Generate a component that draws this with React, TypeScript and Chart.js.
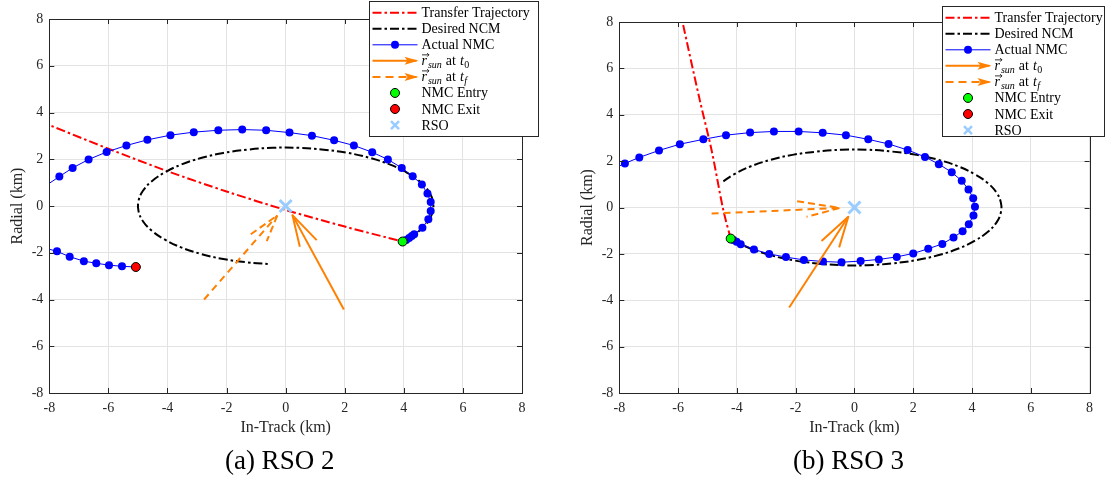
import React, { useEffect, useRef } from 'react';
import { Chart, registerables } from 'chart.js';

Chart.register(...registerables);

type Pt = [number, number];

const SERIF = '"Liberation Serif", "Times New Roman", serif';
const INK = '#262626';
const GRID = '#e3e3e3';
const C_RED = '#ff0000';
const C_BLACK = '#000000';
const C_BLUE = '#0000ff';
const C_ORANGE = '#ff8000';
const C_GREEN = '#00ff00';
const C_RSO = '#99ccff';

const AXIS_MIN = -8;
const AXIS_MAX = 8;
const AXIS_STEP = 2;
const X_TITLE = 'In-Track (km)';
const Y_TITLE = 'Radial (km)';
const LEGEND_TEXT = ['Transfer Trajectory', 'Desired NCM', 'Actual NMC', 'SUN_T0', 'SUN_TF', 'NMC Entry', 'NMC Exit', 'RSO'];

// ---------- RSO 2 ----------
const rso2Transfer: Pt[] = [[-8.3, 3.61], [-8, 3.46], [-6, 2.45], [-4, 1.49], [-2, 0.62], [0, -0.17], [2, -0.88], [3.96, -1.52]];
const rso2Ncm: Pt[] = [[3.99, -1.5], [4.53, -1.06], [4.83, -0.65], [4.98, -0.22], [4.98, 0.22], [4.83, 0.65], [4.53, 1.06], [4.1, 1.43], [3.54, 1.77], [2.87, 2.05], [2.11, 2.27], [1.29, 2.41], [0.44, 2.49], [-0.44, 2.49], [-1.29, 2.41], [-2.11, 2.27], [-2.87, 2.05], [-3.54, 1.77], [-4.1, 1.43], [-4.53, 1.06], [-4.83, 0.65], [-4.98, 0.22], [-4.98, -0.22], [-4.83, -0.65], [-4.53, -1.06], [-4.1, -1.43], [-3.54, -1.77], [-2.87, -2.05], [-2.11, -2.27], [-1.29, -2.41], [-0.52, -2.49]];
const rso2Nmc: Pt[] = [[3.96, -1.52], [4.08, -1.45], [4.18, -1.37], [4.27, -1.28], [4.35, -1.21], [4.63, -0.93], [4.83, -0.57], [4.91, -0.21], [4.91, 0.17], [4.8, 0.53], [4.61, 0.92], [4.3, 1.27], [3.93, 1.63], [3.46, 1.99], [2.93, 2.3], [2.31, 2.59], [1.64, 2.81], [0.89, 3.01], [0.13, 3.14], [-0.66, 3.24], [-1.47, 3.27], [-2.28, 3.24], [-3.11, 3.16], [-3.9, 3.03], [-4.68, 2.83], [-5.39, 2.59], [-6.06, 2.31], [-6.67, 1.99], [-7.21, 1.63], [-7.66, 1.26], [-8.2, 0.8], [-8.5, -0.5], [-8.2, -1.78], [-7.74, -1.94], [-7.31, -2.17], [-6.83, -2.36], [-6.41, -2.45], [-5.98, -2.53], [-5.54, -2.58], [-5.07, -2.61]];
const rso2Entry: Pt = [3.96, -1.52];
const rso2Exit: Pt = [-5.07, -2.61];
const rso2Target: Pt = [0, 0];
const rso2SunT0Shaft: Pt[] = [[1.97, -4.43], [0.23, -0.39]];
const rso2SunT0Head: Pt[] = [[0.48, -1.74], [0.23, -0.39], [1.05, -1.46]];
const rso2SunTfShaft: Pt[] = [[-2.76, -4.0], [-0.28, -0.4]];
const rso2SunTfHead: Pt[] = [[-1.18, -1.21], [-0.28, -0.4], [-0.64, -1.5]];

// ---------- RSO 3 ----------
const rso3Transfer: Pt[] = [[-5.95, 8.6], [-5.85, 8.0], [-5.26, 4.62], [-4.86, 2.47], [-4.46, -0.12], [-4.21, -1.34]];
const rso3Ncm: Pt[] = [[-4.46, 1.13], [-4.1, 1.43], [-3.54, 1.77], [-2.87, 2.05], [-2.11, 2.27], [-1.29, 2.41], [-0.44, 2.49], [0.44, 2.49], [1.29, 2.41], [2.11, 2.27], [2.87, 2.05], [3.54, 1.77], [4.1, 1.43], [4.53, 1.06], [4.83, 0.65], [4.98, 0.22], [4.98, -0.22], [4.83, -0.65], [4.53, -1.06], [4.1, -1.43], [3.54, -1.77], [2.87, -2.05], [2.11, -2.27], [1.29, -2.41], [0.44, -2.49], [-0.44, -2.49], [-1.29, -2.41], [-2.11, -2.27], [-2.87, -2.05], [-3.54, -1.77], [-3.99, -1.5]];
const rso3Nmc: Pt[] = [[-4.21, -1.34], [-4.12, -1.4], [-4.01, -1.48], [-3.87, -1.58], [-3.42, -1.81], [-2.9, -2.0], [-2.33, -2.14], [-1.72, -2.26], [-1.07, -2.33], [-0.44, -2.36], [0.21, -2.31], [0.83, -2.24], [1.44, -2.13], [2.0, -1.98], [2.51, -1.78], [2.99, -1.57], [3.37, -1.29], [3.68, -1.02], [3.89, -0.72], [4.05, -0.34], [4.1, 0.03], [4.04, 0.4], [3.88, 0.78], [3.65, 1.15], [3.31, 1.52], [2.87, 1.87], [2.4, 2.18], [1.81, 2.48], [1.16, 2.74], [0.47, 2.94], [-0.29, 3.12], [-1.08, 3.22], [-1.9, 3.28], [-2.74, 3.28], [-3.55, 3.23], [-4.37, 3.12], [-5.14, 2.94], [-5.94, 2.73], [-6.65, 2.46], [-7.32, 2.16], [-7.81, 1.9], [-8.3, 1.62]];
const rso3Entry: Pt = [-4.21, -1.34];
const rso3Target: Pt = [0, 0];
const rso3SunT0Shaft: Pt[] = [[-2.22, -4.31], [-0.21, -0.4]];
const rso3SunT0Head: Pt[] = [[-1.12, -1.44], [-0.21, -0.4], [-0.52, -1.72]];
const rso3SunTfShaft: Pt[] = [[-4.86, -0.26], [-0.49, -0.02]];
const rso3SunTfHead: Pt[] = [[-1.95, 0.27], [-0.49, -0.02], [-1.63, -0.4]];

interface Panel {
  caption: string;
  transfer: Pt[];
  ncm: Pt[];
  nmc: Pt[];
  entry: Pt;
  exit: Pt | null;
  target: Pt;
  sunT0Shaft: Pt[];
  sunT0Head: Pt[];
  sunTfShaft: Pt[];
  sunTfHead: Pt[];
  left: number;
  width: number;
  padTop: number;
  padRight: number;
  yAxisWidth: number;
  yTitleX: number;
  legend: { x: number; y: number; w: number; h: number };
}

const PANELS: Panel[] = [
  {
    caption: '(a) RSO 2',
    transfer: rso2Transfer, ncm: rso2Ncm, nmc: rso2Nmc, entry: rso2Entry, exit: rso2Exit, target: rso2Target,
    sunT0Shaft: rso2SunT0Shaft, sunT0Head: rso2SunT0Head, sunTfShaft: rso2SunTfShaft, sunTfHead: rso2SunTfHead,
    left: 0, width: 553, padTop: 19, padRight: 31, yAxisWidth: 49.3, yTitleX: 18,
    legend: { x: 369, y: 1, w: 169, h: 135 },
  },
  {
    caption: '(b) RSO 3',
    transfer: rso3Transfer, ncm: rso3Ncm, nmc: rso3Nmc, entry: rso3Entry, exit: null, target: rso3Target,
    sunT0Shaft: rso3SunT0Shaft, sunT0Head: rso3SunT0Head, sunTfShaft: rso3SunTfShaft, sunTfHead: rso3SunTfHead,
    left: 553, width: 554, padTop: 22, padRight: 17.4, yAxisWidth: 66.3, yTitleX: 35,
    legend: { x: 389, y: 6, w: 162, h: 130 },
  },
];

const toXY = (arr: Pt[]) => arr.map(([x, y]) => ({ x, y }));

function lineDs(label: string, data: Pt[], color: string, width: number, dash: number[], order: number, tension = 0) {
  return {
    label, data: toXY(data), showLine: true, borderColor: color, backgroundColor: color,
    borderWidth: width, borderDash: dash, pointRadius: 0, pointHoverRadius: 0, tension, order,
    borderCapStyle: 'butt', borderJoinStyle: 'round', fill: false,
  };
}

function seg(ctx: CanvasRenderingContext2D, x0: number, y0: number, x1: number, y1: number, color: string, w: number, dash: number[] = []) {
  ctx.save();
  ctx.strokeStyle = color;
  ctx.lineWidth = w;
  ctx.setLineDash(dash);
  ctx.beginPath();
  ctx.moveTo(x0, y0);
  ctx.lineTo(x1, y1);
  ctx.stroke();
  ctx.restore();
}

function drawSunLabel(ctx: CanvasRenderingContext2D, x: number, y: number, sub: string) {
  const base = y + 4.5;
  ctx.save();
  ctx.fillStyle = '#000';
  ctx.textBaseline = 'alphabetic';
  ctx.textAlign = 'left';
  ctx.font = `italic 14px ${SERIF}`;
  ctx.fillText('r', x, base);
  const rw = ctx.measureText('r').width;
  ctx.strokeStyle = '#000';
  ctx.lineWidth = 0.8;
  ctx.beginPath();
  ctx.moveTo(x + 0.5, base - 10.5);
  ctx.lineTo(x + rw + 2, base - 10.5);
  ctx.moveTo(x + rw + 0.2, base - 12.3);
  ctx.lineTo(x + rw + 2, base - 10.5);
  ctx.lineTo(x + rw + 0.2, base - 8.7);
  ctx.stroke();
  let cx = x + rw + 1;
  ctx.font = `italic 10px ${SERIF}`;
  ctx.fillText('sun', cx, base + 3);
  cx += ctx.measureText('sun').width + 4;
  ctx.font = `14px ${SERIF}`;
  ctx.fillText('at', cx, base);
  cx += ctx.measureText('at').width + 4;
  ctx.font = `italic 14px ${SERIF}`;
  ctx.fillText('t', cx, base);
  cx += ctx.measureText('t').width + 0.5;
  ctx.font = sub === 'f' ? `italic 10px ${SERIF}` : `10px ${SERIF}`;
  ctx.fillText(sub, cx, base + 3);
  ctx.restore();
}

function drawLegend(ctx: CanvasRenderingContext2D, L: { x: number; y: number; w: number; h: number }) {
  ctx.save();
  ctx.fillStyle = '#ffffff';
  ctx.fillRect(L.x, L.y, L.w, L.h);
  ctx.strokeStyle = INK;
  ctx.lineWidth = 1;
  ctx.strokeRect(Math.round(L.x) + 0.5, Math.round(L.y) + 0.5, L.w, L.h);
  const sx0 = L.x + 3.5;
  const sx1 = L.x + 48.5;
  const cx = (sx0 + sx1) / 2;
  const tx = L.x + 52.5;
  LEGEND_TEXT.forEach((label, i) => {
    const y = L.y + 11.7 + i * 16.05;
    if (i === 0) seg(ctx, sx0, y, sx1, y, C_RED, 2, [9, 3, 2.5, 3]);
    if (i === 1) seg(ctx, sx0, y, sx1, y, C_BLACK, 2, [9, 3, 2.5, 3]);
    if (i === 2) {
      seg(ctx, sx0, y, sx1, y, C_BLUE, 1);
      ctx.fillStyle = C_BLUE;
      ctx.beginPath();
      ctx.arc(cx, y, 4, 0, Math.PI * 2);
      ctx.fill();
    }
    if (i === 3 || i === 4) {
      if (i === 3) seg(ctx, sx0, y, sx1 - 1, y, C_ORANGE, 2);
      else seg(ctx, sx0, y, sx1 - 1, y, C_ORANGE, 2, [8, 5]);
      ctx.save();
      ctx.fillStyle = C_ORANGE;
      ctx.beginPath();
      ctx.moveTo(sx1 + 1, y);
      ctx.lineTo(sx1 - 13, y - 4);
      ctx.lineTo(sx1 - 10, y);
      ctx.lineTo(sx1 - 13, y + 4);
      ctx.closePath();
      ctx.fill();
      ctx.restore();
    }
    if (i === 5 || i === 6) {
      ctx.fillStyle = i === 5 ? C_GREEN : C_RED;
      ctx.strokeStyle = '#000';
      ctx.lineWidth = 1;
      ctx.beginPath();
      ctx.arc(cx, y, 4.5, 0, Math.PI * 2);
      ctx.fill();
      ctx.stroke();
    }
    if (i === 7) {
      seg(ctx, cx - 4, y - 4, cx + 4, y + 4, C_RSO, 2.5);
      seg(ctx, cx - 4, y + 4, cx + 4, y - 4, C_RSO, 2.5);
    }
    if (i === 3) drawSunLabel(ctx, tx, y, '0');
    else if (i === 4) drawSunLabel(ctx, tx, y, 'f');
    else {
      ctx.fillStyle = '#000';
      ctx.font = `14px ${SERIF}`;
      ctx.textAlign = 'left';
      ctx.textBaseline = 'alphabetic';
      ctx.fillText(label, tx, y + 4.5);
    }
  });
  ctx.restore();
}

function makeDecor(p: Panel) {
  return {
    id: 'decor',
    afterDraw(chart: any) {
      const ctx: CanvasRenderingContext2D = chart.ctx;
      const a = chart.chartArea;
      const xs = chart.scales.x;
      const ys = chart.scales.y;
      ctx.save();
      const tickVals: number[] = [];
      for (let v = AXIS_MIN; v <= AXIS_MAX; v += AXIS_STEP) tickVals.push(v);
      tickVals.forEach((v) => {
        const px = Math.round(xs.getPixelForValue(v)) + 0.5;
        seg(ctx, px, a.bottom, px, a.bottom - 5, INK, 1);
        seg(ctx, px, a.top, px, a.top + 5, INK, 1);
        const py = Math.round(ys.getPixelForValue(v)) + 0.5;
        seg(ctx, a.left, py, a.left + 5, py, INK, 1);
        seg(ctx, a.right, py, a.right - 5, py, INK, 1);
      });
      ctx.strokeStyle = INK;
      ctx.lineWidth = 1;
      const l = Math.round(a.left) + 0.5;
      const t = Math.round(a.top) + 0.5;
      const r = Math.round(a.right) + 0.5;
      const b = Math.round(a.bottom) + 0.5;
      ctx.strokeRect(l, t, r - l, b - t);
      ctx.fillStyle = INK;
      ctx.font = `16px ${SERIF}`;
      ctx.textAlign = 'center';
      ctx.textBaseline = 'middle';
      ctx.fillText(X_TITLE, (a.left + a.right) / 2, 428);
      ctx.save();
      ctx.translate(p.yTitleX, (a.top + a.bottom) / 2);
      ctx.rotate(-Math.PI / 2);
      ctx.fillText(Y_TITLE, 0, 0);
      ctx.restore();
      ctx.fillStyle = '#000';
      ctx.font = `27px ${SERIF}`;
      ctx.fillText(p.caption, (a.left + a.right) / 2 - 6, 462);
      ctx.restore();
      drawLegend(ctx, p.legend);
    },
  };
}

function buildConfig(p: Panel): any {
  const radii = p.nmc.map(([x]) => (x >= AXIS_MIN && x <= AXIS_MAX ? 4 : 0));
  const datasets: any[] = [
    lineDs('Transfer Trajectory', p.transfer, C_RED, 2, [9, 3, 2.5, 3], 9, 0.3),
    lineDs('Desired NCM', p.ncm, C_BLACK, 2, [9, 3, 2.5, 3], 8, 0.4),
    {
      label: 'Actual NMC', data: toXY(p.nmc), showLine: true, borderColor: C_BLUE, backgroundColor: C_BLUE,
      borderWidth: 1, pointRadius: radii, pointHoverRadius: radii, pointBackgroundColor: C_BLUE,
      pointBorderColor: C_BLUE, pointBorderWidth: 0, tension: 0, order: 7,
    },
    lineDs('sun t0', p.sunT0Shaft, C_ORANGE, 2, [], 5),
    lineDs('sun t0 head', p.sunT0Head, C_ORANGE, 2, [], 5),
    lineDs('sun tf', p.sunTfShaft, C_ORANGE, 2, [7, 5], 6),
    lineDs('sun tf head', p.sunTfHead, C_ORANGE, 2, [7, 4], 6),
    {
      label: 'NMC Entry', data: toXY([p.entry]), showLine: false, pointRadius: 4.5, pointHoverRadius: 4.5,
      pointBackgroundColor: C_GREEN, pointBorderColor: '#000', pointBorderWidth: 1, order: 2,
    },
  ];
  if (p.exit) {
    datasets.push({
      label: 'NMC Exit', data: toXY([p.exit]), showLine: false, pointRadius: 4.5, pointHoverRadius: 4.5,
      pointBackgroundColor: C_RED, pointBorderColor: '#000', pointBorderWidth: 1, order: 1,
    });
  }
  datasets.push({
    label: 'RSO', data: toXY([p.target]), showLine: false, pointStyle: 'crossRot', pointRadius: 8.5,
    pointHoverRadius: 8.5, pointBorderColor: C_RSO, pointBackgroundColor: C_RSO, pointBorderWidth: 3, order: 0,
  });

  const tickFont = { family: SERIF, size: 14 };
  return {
    type: 'scatter',
    data: { datasets },
    options: {
      animation: false,
      responsive: false,
      maintainAspectRatio: false,
      devicePixelRatio: 1,
      events: [],
      layout: { padding: { left: 0, top: p.padTop, right: p.padRight, bottom: 38 } },
      plugins: { legend: { display: false }, tooltip: { enabled: false }, title: { display: false } },
      scales: {
        x: {
          type: 'linear', min: AXIS_MIN, max: AXIS_MAX,
          ticks: { stepSize: AXIS_STEP, color: INK, font: tickFont, padding: 7, maxRotation: 0, autoSkip: false, callback: (v: number) => String(v) },
          grid: { color: GRID, lineWidth: 1, drawTicks: false },
          border: { display: false },
          afterFit: (s: any) => { s.height = 48; },
        },
        y: {
          type: 'linear', min: AXIS_MIN, max: AXIS_MAX,
          ticks: { stepSize: AXIS_STEP, color: INK, font: tickFont, padding: 6, autoSkip: false, callback: (v: number) => String(v) },
          grid: { color: GRID, lineWidth: 1, drawTicks: false },
          border: { display: false },
          afterFit: (s: any) => { s.width = p.yAxisWidth; },
        },
      },
    },
    plugins: [makeDecor(p)],
  };
}

function PanelChart({ p }: { p: Panel }) {
  const ref = useRef<HTMLCanvasElement>(null);
  useEffect(() => {
    if (!ref.current) return;
    const chart = new Chart(ref.current, buildConfig(p));
    return () => chart.destroy();
  }, [p]);
  return (
    <canvas
      ref={ref}
      width={p.width}
      height={479}
      style={{ position: 'absolute', left: p.left, top: 0, width: p.width, height: 479 }}
    />
  );
}

export default function App() {
  return (
    <div style={{ position: 'fixed', left: 0, top: 0, width: 1107, height: 479, background: '#ffffff', overflow: 'hidden' }}>
      {PANELS.map((p) => (
        <PanelChart key={p.caption} p={p} />
      ))}
    </div>
  );
}
